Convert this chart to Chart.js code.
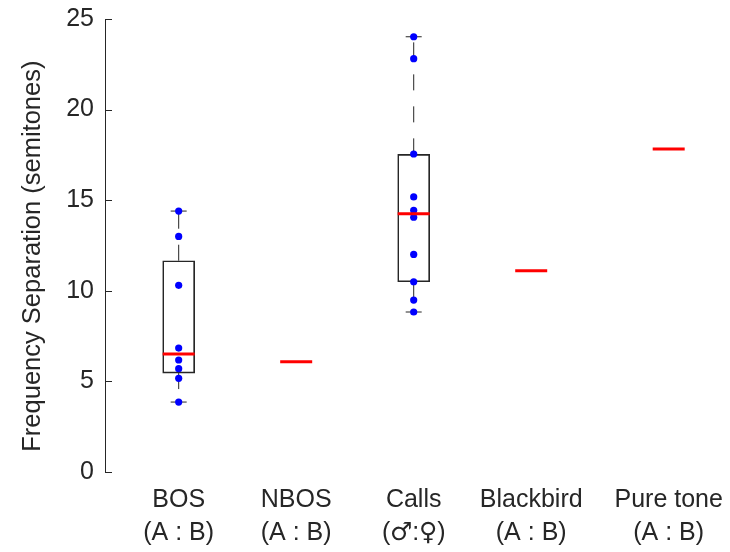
<!DOCTYPE html>
<html>
<head>
<meta charset="utf-8">
<script src="https://cdn.jsdelivr.net/npm/chart.js@4"></script>
<style>
  /* larger male/female signs than the ones bundled with Liberation Sans */
  @font-face {
    font-family: "SexSigns";
    src: local("DejaVu Sans"), local("DejaVuSans");
    unicode-range: U+2640-2642;
  }
  body { margin: 0; background: #fff; }
  #wrap { width: 730px; height: 552px; }
</style>
</head>
<body>
<div id="wrap"><canvas id="sepChart"></canvas></div>
<script>
// Stimulus categories and where they sit on the x axis
const categories = [["BOS", "(A : B)"], ["NBOS", "(A : B)"], ["Calls", "(\u2642:\u2640)"], ["Blackbird", "(A : B)"], ["Pure tone", "(A : B)"]];
const positions = [1, 2, 3, 4, 5.17];

// Medians for every category
const medians = [6.51, 6.09, 14.25, 11.1, 17.83];

// Box summaries (only BOS and Calls have several samples)
const boxPositions = [1, 3];
const q1 = [5.46, 10.5];
const q3 = [11.66, 17.53];
const whiskerLo = [3.86, 8.83];
const whiskerHi = [14.4, 24.02];

// Individual samples
const bosPoints = [14.4, 13.0, 10.3, 6.84, 6.18, 5.70, 5.17, 3.86];
const callsPoints = [24.02, 22.81, 17.55, 15.18, 14.44, 14.06, 12.01, 10.5, 9.49, 8.83];

const yTicks = [0, 5, 10, 15, 20, 25];

const ink = "#262626";
const font = { family: "SexSigns, 'Liberation Sans', Arial, sans-serif", size: 25, lineHeight: 1.3 };

const samples = [
  ...bosPoints.map(v => ({ x: boxPositions[0], y: v })),
  ...callsPoints.map(v => ({ x: boxPositions[1], y: v }))
];

// Dashed whiskers, drawn outward from the box edges
const whiskers = [];
boxPositions.forEach((x, i) => {
  whiskers.push([{ x, y: q3[i] }, { x, y: whiskerHi[i] }]);
  whiskers.push([{ x, y: q1[i] }, { x, y: whiskerLo[i] }]);
});

const caps = [];
boxPositions.forEach((x, i) => {
  caps.push({ x, y: whiskerHi[i] }, { x, y: whiskerLo[i] });
});

// Inward tick marks on the y axis (MATLAB style)
const inwardTicks = {
  id: "inwardTicks",
  afterDatasetsDraw(chart) {
    const { ctx, scales: { y }, chartArea } = chart;
    ctx.save();
    ctx.strokeStyle = ink;
    ctx.lineWidth = 1;
    yTicks.forEach(t => {
      const py = Math.round(y.getPixelForValue(t)) + 0.5;
      ctx.beginPath();
      ctx.moveTo(chartArea.left, py);
      ctx.lineTo(chartArea.left + 7, py);
      ctx.stroke();
    });
    ctx.restore();
  }
};

function drawChart() {
  new Chart(document.getElementById("sepChart"), {
    data: {
      datasets: [
        {
          type: "scatter",
          data: positions.map((x, i) => ({ x, y: medians[i] })),
          pointStyle: "line",
          radius: 16,
          hoverRadius: 16,
          borderColor: "#ff0000",
          borderWidth: 3,
          order: 0
        },
        {
          type: "scatter",
          data: samples,
          pointStyle: "circle",
          radius: 3.6,
          backgroundColor: "#0000ff",
          borderColor: "#0000ff",
          borderWidth: 0,
          order: 1
        },
        {
          type: "scatter",
          data: caps,
          pointStyle: "line",
          radius: 8,
          borderColor: ink,
          borderWidth: 1,
          order: 2
        },
        ...whiskers.map(seg => ({
          type: "line",
          data: seg,
          borderColor: ink,
          borderWidth: 1,
          borderDash: [16, 16],
          pointRadius: 0,
          fill: false,
          order: 3
        })),
        {
          type: "bar",
          data: boxPositions.map((x, i) => ({ x, y: [q1[i], q3[i]] })),
          backgroundColor: "rgba(0,0,0,0)",
          borderColor: ink,
          borderWidth: 1,
          borderSkipped: false,
          barThickness: 32,
          order: 4
        }
      ]
    },
    options: {
      responsive: true,
      maintainAspectRatio: false,
      animation: false,
      layout: { padding: { top: 19, right: 12, left: 0, bottom: 0 } },
      plugins: {
        legend: { display: false },
        tooltip: { enabled: false }
      },
      scales: {
        x: {
          type: "linear",
          offset: false,
          min: 0.373,
          max: 5.53,
          grid: { display: false, drawTicks: false },
          border: { display: false },
          afterBuildTicks: scale => {
            scale.ticks = positions.map(v => ({ value: v }));
          },
          afterFit: scale => {
            scale.height = 80;
            scale.paddingLeft = 0;
            scale.paddingRight = 0;
          },
          ticks: {
            color: ink,
            font,
            padding: 12,
            maxRotation: 0,
            autoSkip: false,
            callback: (value, index) => categories[index]
          }
        },
        y: {
          type: "linear",
          min: 0,
          max: 25,
          grid: { display: false, drawTicks: false },
          border: { display: true, color: ink, width: 1 },
          afterBuildTicks: scale => {
            scale.ticks = yTicks.map(v => ({ value: v }));
          },
          afterFit: scale => {
            scale.width = 105;
            scale.paddingTop = 0;
            scale.paddingBottom = 0;
          },
          ticks: { color: ink, font: { ...font, lineHeight: 1.2 }, padding: 11 },
          title: {
            display: true,
            // trailing spaces nudge the label a little below the axis centre
            text: "Frequency Separation (semitones)   ",
            color: ink,
            font: { ...font, size: 25.5, lineHeight: 1.2 },
            padding: { top: 18, bottom: 0 }
          }
        }
      }
    },
    plugins: [inwardTicks]
  });
}

document.fonts.load("25px SexSigns", "\u2642\u2640").then(drawChart, drawChart);
</script>
</body>
</html>
